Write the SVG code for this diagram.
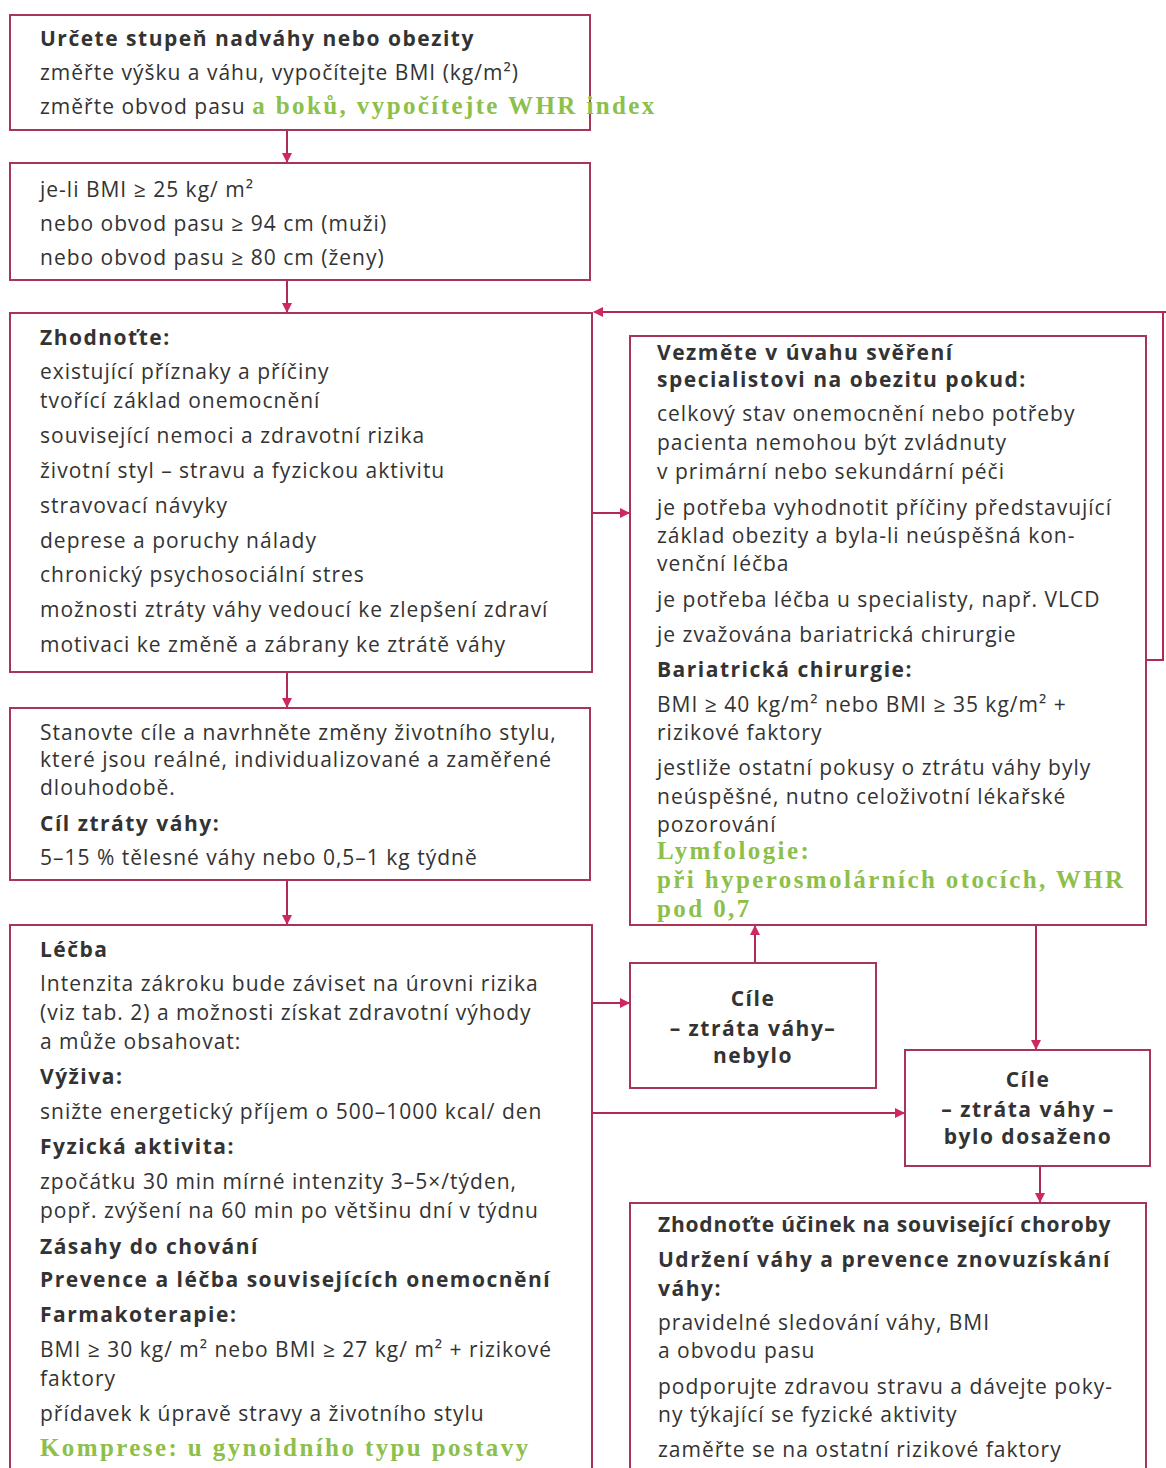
<svg xmlns="http://www.w3.org/2000/svg" width="1166" height="1468" viewBox="0 0 1166 1468">
<defs>
<style>
.box{fill:#fff;stroke:#a8345a;stroke-width:2}
.t{font-family:"Open Sans","Noto Sans",sans-serif;font-size:21px;fill:#333;letter-spacing:1px}
.b{font-weight:bold;letter-spacing:1.5px}
.c{text-anchor:middle}
.g{font-family:"Liberation Serif","DejaVu Serif",serif;font-weight:bold;font-size:25px;fill:#8cc04a;letter-spacing:2.4px}
.ln{fill:none;stroke:#b02a57;stroke-width:2}
</style>
<marker id="ah" viewBox="0 0 10 10" refX="9" refY="5" markerWidth="10" markerHeight="10" markerUnits="userSpaceOnUse" orient="auto">
<path d="M0,0 L10,5 L0,10 z" fill="#cf2760"/>
</marker>
</defs>
<rect width="1166" height="1468" fill="#fff"/>

<g id="connectors">
<line class="ln" x1="287" y1="130" x2="287" y2="162" marker-end="url(#ah)"/>
<line class="ln" x1="287" y1="280" x2="287" y2="312" marker-end="url(#ah)"/>
<line class="ln" x1="287" y1="672" x2="287" y2="707" marker-end="url(#ah)"/>
<line class="ln" x1="287" y1="880" x2="287" y2="924" marker-end="url(#ah)"/>
<line class="ln" x1="592" y1="513" x2="629" y2="513" marker-end="url(#ah)"/>
<polyline class="ln" points="1146,660 1163,660 1163,312 1166,312"/>
<line class="ln" x1="1166" y1="312" x2="594" y2="312" marker-end="url(#ah)"/>
<line class="ln" x1="592" y1="1003" x2="629" y2="1003" marker-end="url(#ah)"/>
<line class="ln" x1="755" y1="963" x2="755" y2="926" marker-end="url(#ah)"/>
<line class="ln" x1="592" y1="1113" x2="904" y2="1113" marker-end="url(#ah)"/>
<line class="ln" x1="1036" y1="925" x2="1036" y2="1049" marker-end="url(#ah)"/>
<line class="ln" x1="1040" y1="1166" x2="1040" y2="1202" marker-end="url(#ah)"/>
</g>

<g id="n1">
<rect class="box" x="10" y="15" width="580" height="115"/>
<text class="t b" x="40" y="46">Určete stupeň nadváhy nebo obezity</text>
<text class="t" x="40" y="80">změřte výšku a váhu, vypočítejte BMI (kg/m²)</text>
<text class="t" x="40" y="114">změřte obvod pasu <tspan class="g">a boků, vypočítejte WHR index</tspan></text>
</g>

<g id="n2">
<rect class="box" x="10" y="163" width="580" height="117"/>
<text class="t" x="40" y="197">je-li BMI ≥ 25 kg/ m²</text>
<text class="t" x="40" y="231">nebo obvod pasu ≥ 94 cm (muži)</text>
<text class="t" x="40" y="265">nebo obvod pasu ≥ 80 cm (ženy)</text>
</g>

<g id="n3">
<rect class="box" x="10" y="313" width="582" height="359"/>
<text class="t b" x="40" y="345">Zhodnoťte:</text>
<text class="t" x="40" y="379">existující příznaky a příčiny</text>
<text class="t" x="40" y="408">tvořící základ onemocnění</text>
<text class="t" x="40" y="443">související nemoci a zdravotní rizika</text>
<text class="t" x="40" y="478">životní styl – stravu a fyzickou aktivitu</text>
<text class="t" x="40" y="513">stravovací návyky</text>
<text class="t" x="40" y="548">deprese a poruchy nálady</text>
<text class="t" x="40" y="582">chronický psychosociální stres</text>
<text class="t" x="40" y="617">možnosti ztráty váhy vedoucí ke zlepšení zdraví</text>
<text class="t" x="40" y="652">motivaci ke změně a zábrany ke ztrátě váhy</text>
</g>

<g id="n4">
<rect class="box" x="630" y="336" width="516" height="589"/>
<text class="t b" x="657" y="360">Vezměte v úvahu svěření</text>
<text class="t b" x="657" y="387">specialistovi na obezitu pokud:</text>
<text class="t" x="657" y="421">celkový stav onemocnění nebo potřeby</text>
<text class="t" x="657" y="450">pacienta nemohou být zvládnuty</text>
<text class="t" x="657" y="479">v primární nebo sekundární péči</text>
<text class="t" x="657" y="515">je potřeba vyhodnotit příčiny představující</text>
<text class="t" x="657" y="543">základ obezity a byla-li neúspěšná kon-</text>
<text class="t" x="657" y="571">venční léčba</text>
<text class="t" x="657" y="607">je potřeba léčba u specialisty, např. VLCD</text>
<text class="t" x="657" y="642">je zvažována bariatrická chirurgie</text>
<text class="t b" x="657" y="677">Bariatrická chirurgie:</text>
<text class="t" x="657" y="712">BMI ≥ 40 kg/m² nebo BMI ≥ 35 kg/m² +</text>
<text class="t" x="657" y="740">rizikové faktory</text>
<text class="t" x="657" y="775">jestliže ostatní pokusy o ztrátu váhy byly</text>
<text class="t" x="657" y="804">neúspěšné, nutno celoživotní lékařské</text>
<text class="t" x="657" y="832">pozorování</text>
<text class="g" x="657" y="859">Lymfologie:</text>
<text class="g" x="657" y="888">při hyperosmolárních otocích, WHR</text>
<text class="g" x="657" y="917">pod 0,7</text>
</g>

<g id="n5">
<rect class="box" x="10" y="708" width="580" height="172"/>
<text class="t" x="40" y="740">Stanovte cíle a navrhněte změny životního stylu,</text>
<text class="t" x="40" y="767">které jsou reálné, individualizované a zaměřené</text>
<text class="t" x="40" y="795">dlouhodobě.</text>
<text class="t b" x="40" y="831">Cíl ztráty váhy:</text>
<text class="t" x="40" y="865">5–15 % tělesné váhy nebo 0,5–1 kg týdně</text>
</g>

<g id="n6">
<rect class="box" x="10" y="925" width="582" height="560"/>
<text class="t b" x="40" y="957">Léčba</text>
<text class="t" x="40" y="991">Intenzita zákroku bude záviset na úrovni rizika</text>
<text class="t" x="40" y="1020">(viz tab. 2) a možnosti získat zdravotní výhody</text>
<text class="t" x="40" y="1049">a může obsahovat:</text>
<text class="t b" x="40" y="1084">Výživa:</text>
<text class="t" x="40" y="1119">snižte energetický příjem o 500–1000 kcal/ den</text>
<text class="t b" x="40" y="1154">Fyzická aktivita:</text>
<text class="t" x="40" y="1189">zpočátku 30 min mírné intenzity 3–5×/týden,</text>
<text class="t" x="40" y="1218">popř. zvýšení na 60 min po většinu dní v týdnu</text>
<text class="t b" x="40" y="1254">Zásahy do chování</text>
<text class="t b" x="40" y="1287">Prevence a léčba souvisejících onemocnění</text>
<text class="t b" x="40" y="1322">Farmakoterapie:</text>
<text class="t" x="40" y="1357">BMI ≥ 30 kg/ m² nebo BMI ≥ 27 kg/ m² + rizikové</text>
<text class="t" x="40" y="1386">faktory</text>
<text class="t" x="40" y="1421">přídavek k úpravě stravy a životního stylu</text>
<text class="g" x="40" y="1456">Komprese: u gynoidního typu postavy</text>
</g>

<g id="n7">
<rect class="box" x="630" y="963" width="246" height="125"/>
<text class="t b c" x="753" y="1006">Cíle</text>
<text class="t b c" x="753" y="1036">– ztráta váhy–</text>
<text class="t b c" x="753" y="1063">nebylo</text>
</g>

<g id="n8">
<rect class="box" x="905" y="1050" width="245" height="116"/>
<text class="t b c" x="1028" y="1087">Cíle</text>
<text class="t b c" x="1028" y="1117">– ztráta váhy –</text>
<text class="t b c" x="1028" y="1144">bylo dosaženo</text>
</g>

<g id="n9">
<rect class="box" x="630" y="1203" width="516" height="290"/>
<text class="t b" x="658" y="1232" style="letter-spacing:0.8px">Zhodnoťte účinek na související choroby</text>
<text class="t b" x="658" y="1267">Udržení váhy a prevence znovuzískání</text>
<text class="t b" x="658" y="1296">váhy:</text>
<text class="t" x="658" y="1330">pravidelné sledování váhy, BMI</text>
<text class="t" x="658" y="1358">a obvodu pasu</text>
<text class="t" x="658" y="1394">podporujte zdravou stravu a dávejte poky-</text>
<text class="t" x="658" y="1422">ny týkající se fyzické aktivity</text>
<text class="t" x="658" y="1457">zaměřte se na ostatní rizikové faktory</text>
</g>
</svg>
